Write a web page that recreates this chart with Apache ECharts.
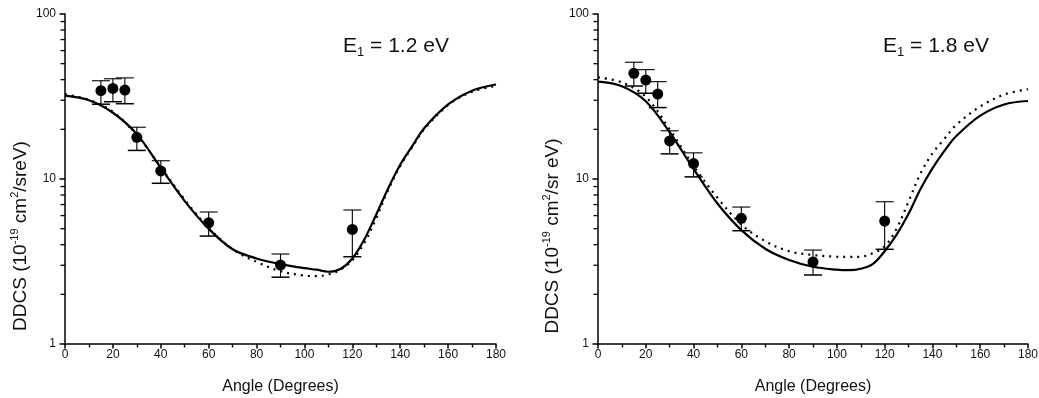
<!DOCTYPE html>
<html>
<head>
<meta charset="utf-8">
<script src="https://cdn.jsdelivr.net/npm/echarts@6/dist/echarts.min.js"></script>
<style>
html,body{margin:0;padding:0;background:#fff;}
#chart{width:1039px;height:398px;}
</style>
</head>
<body>
<div id="chart"></div>
<script>
// ---------- data ----------
const xTicks = [0, 20, 40, 60, 80, 100, 120, 140, 160, 180];
const yTicks = [1, 10, 100];
const yMinorTicks = [2, 3, 4, 5, 6, 7, 8, 9, 20, 30, 40, 50, 60, 70, 80, 90];

// experimental points
const expAngles = [15, 20, 25, 30, 40, 60, 90, 120];
const exp12 = [34.3, 35.4, 34.6, 17.9, 11.2, 5.43, 3.01, 4.95];
const exp12Low = [28.4, 29.4, 28.6, 14.9, 9.42, 4.51, 2.54, 3.38];
const exp12High = [39.4, 40.5, 41.0, 20.6, 12.9, 6.31, 3.51, 6.49];
const exp18 = [43.7, 39.8, 32.7, 17.0, 12.4, 5.78, 3.14, 5.56];
const exp18Low = [36.6, 33.1, 27.1, 14.2, 10.3, 4.86, 2.62, 3.75];
const exp18High = [51.0, 46.0, 38.9, 19.6, 14.4, 6.76, 3.71, 7.28];

// theory curves
const curveAngles = [0, 10, 20, 30, 40, 50, 60, 70, 80, 90, 100, 105, 110, 115, 120, 125, 130, 135, 140, 145, 150, 160, 170, 180];
const solid12 = [32.0, 30.0, 25.2, 18.7, 11.7, 7.35, 5.0, 3.75, 3.3, 3.05, 2.88, 2.82, 2.74, 2.85, 3.3, 4.3, 6.1, 8.8, 12.2, 15.8, 20.3, 28.3, 34.3, 37.4];
const dotted12 = [32.6, 30.2, 25.5, 18.5, 11.8, 7.5, 5.05, 3.75, 3.15, 2.76, 2.6, 2.58, 2.64, 2.82, 3.22, 4.1, 5.8, 8.6, 12.0, 15.6, 20.0, 28.0, 33.8, 36.6];
const solid18 = [38.9, 36.5, 29.6, 19.2, 11.5, 7.1, 4.9, 3.78, 3.23, 2.94, 2.82, 2.8, 2.86, 3.05, 3.65, 4.6, 6.15, 8.7, 11.6, 14.8, 18.2, 24.2, 28.3, 29.7];
const dotted18 = [41.3, 38.5, 31.5, 20.0, 12.0, 7.7, 5.3, 4.2, 3.65, 3.46, 3.38, 3.37, 3.38, 3.55, 3.9, 5.0, 7.3, 10.8, 14.3, 17.5, 21.3, 27.5, 32.5, 35.0];

const titles = ['1.2', '1.8'];
const yNames = ['sreV)', 'sr eV)'];

// ---------- build ----------
const FONT = '"Liberation Sans", Arial, Helvetica, sans-serif';
const grids = [
  {left: 65, top: 14, width: 431, height: 330, outerBoundsMode: 'none', containLabel: false},
  {left: 598, top: 14, width: 430, height: 330, outerBoundsMode: 'none', containLabel: false}
];

function pairs(xs, ys) { return xs.map((x, i) => [x, ys[i]]); }
function errData(xs, lo, hi) { return xs.map((x, i) => [x, lo[i], hi[i]]); }

function renderErr(params, api) {
  const x = api.value(0);
  const pLo = api.coord([x, api.value(1)]);
  const pHi = api.coord([x, api.value(2)]);
  const hw = 9;
  const st = {stroke: '#000', lineWidth: 1.1};
  return {
    type: 'group',
    children: [
      {type: 'line', shape: {x1: pLo[0], y1: pLo[1], x2: pHi[0], y2: pHi[1]}, style: st},
      {type: 'line', shape: {x1: pLo[0] - hw, y1: pLo[1], x2: pLo[0] + hw, y2: pLo[1]}, style: {stroke: '#000', lineWidth: 1.5}},
      {type: 'line', shape: {x1: pHi[0] - hw, y1: pHi[1], x2: pHi[0] + hw, y2: pHi[1]}, style: st}
    ]
  };
}

// minor log ticks on the y axis, placed through the axis scale
function renderMinorTick(params, api) {
  const p = api.coord([api.value(0), api.value(1)]);
  return {
    type: 'line',
    shape: {x1: p[0] - 4.5, y1: p[1], x2: p[0], y2: p[1]},
    style: {stroke: '#000', lineWidth: 1.3}
  };
}

const xAxes = [], yAxes = [], series = [], graphics = [];
const sets = [
  {exp: exp12, lo: exp12Low, hi: exp12High, solid: solid12, dotted: dotted12},
  {exp: exp18, lo: exp18Low, hi: exp18High, solid: solid18, dotted: dotted18}
];

for (let g = 0; g < 2; g++) {
  xAxes.push({
    type: 'value', gridIndex: g, min: xTicks[0], max: xTicks[xTicks.length - 1],
    interval: xTicks[1] - xTicks[0],
    name: 'Angle (Degrees)', nameLocation: 'middle', nameGap: 35,
    nameTextStyle: {fontFamily: FONT, fontSize: 16, color: '#111'},
    axisLine: {show: true, lineStyle: {color: '#000', width: 1.5}},
    axisTick: {show: true, inside: false, length: 4.5, lineStyle: {color: '#000', width: 1.5}},
    minorTick: {show: true, splitNumber: 2, length: 3.5, lineStyle: {color: '#000', width: 1.4}},
    splitLine: {show: false},
    axisLabel: {fontFamily: FONT, fontSize: 12, color: '#111', margin: 5}
  });
  yAxes.push({
    type: 'log', logBase: 10, gridIndex: g,
    min: yTicks[0], max: yTicks[yTicks.length - 1],
    axisLine: {show: true, lineStyle: {color: '#000', width: 1.5}},
    axisTick: {show: true, length: 5.5, lineStyle: {color: '#000', width: 1.5}},
    splitLine: {show: false},
    axisLabel: {fontFamily: FONT, fontSize: 12, color: '#111', margin: 9}
  });
  const s = sets[g];
  series.push({
    type: 'custom', xAxisIndex: g, yAxisIndex: g,
    data: yMinorTicks.map(v => [xTicks[0], v]),
    renderItem: renderMinorTick, clip: false, silent: true
  });
  series.push({
    type: 'line', xAxisIndex: g, yAxisIndex: g, data: pairs(curveAngles, s.solid),
    smooth: 0.35, showSymbol: false, lineStyle: {color: '#000', width: 2.2}, z: 3, silent: true
  });
  series.push({
    type: 'line', xAxisIndex: g, yAxisIndex: g, data: pairs(curveAngles, s.dotted),
    smooth: 0.35, showSymbol: false, lineStyle: {color: '#000', width: 2.2, type: [2, 5]}, z: 3, silent: true
  });
  series.push({
    type: 'custom', xAxisIndex: g, yAxisIndex: g, data: errData(expAngles, s.lo, s.hi),
    renderItem: renderErr, z: 4, silent: true
  });
  series.push({
    type: 'scatter', xAxisIndex: g, yAxisIndex: g, data: pairs(expAngles, s.exp),
    symbol: 'circle', symbolSize: 11, itemStyle: {color: '#000', opacity: 1}, z: 5, silent: true
  });

  graphics.push({
    type: 'text', x: g === 0 ? 343 : 883, y: 46,
    style: {
      text: '{e|E}{s|1}{e| = ' + titles[g] + ' eV}',
      align: 'left', verticalAlign: 'middle',
      rich: {
        e: {fontFamily: FONT, fontSize: 21, lineHeight: 26, fill: '#111', verticalAlign: 'middle'},
        s: {fontFamily: FONT, fontSize: 13, lineHeight: 13, fill: '#111', verticalAlign: 'bottom'}
      }
    }
  });
  graphics.push({
    type: 'text', x: g === 0 ? 21 : 553, y: 236, rotation: Math.PI / 2,
    style: {
      text: '{m|DDCS (10}{p|-19}{m| cm}{p|2}{m|/' + yNames[g] + '}',
      align: 'center', verticalAlign: 'middle',
      rich: {
        m: {fontFamily: FONT, fontSize: 19, lineHeight: 24, fill: '#111', verticalAlign: 'middle'},
        p: {fontFamily: FONT, fontSize: 11, lineHeight: 11, fill: '#111', verticalAlign: 'top'}
      }
    }
  });
}

const chart = echarts.init(document.getElementById('chart'), null, {renderer: 'canvas'});
chart.setOption({
  animation: false,
  backgroundColor: '#fff',
  grid: grids,
  xAxis: xAxes,
  yAxis: yAxes,
  series: series,
  graphic: graphics
});
</script>
</body>
</html>
